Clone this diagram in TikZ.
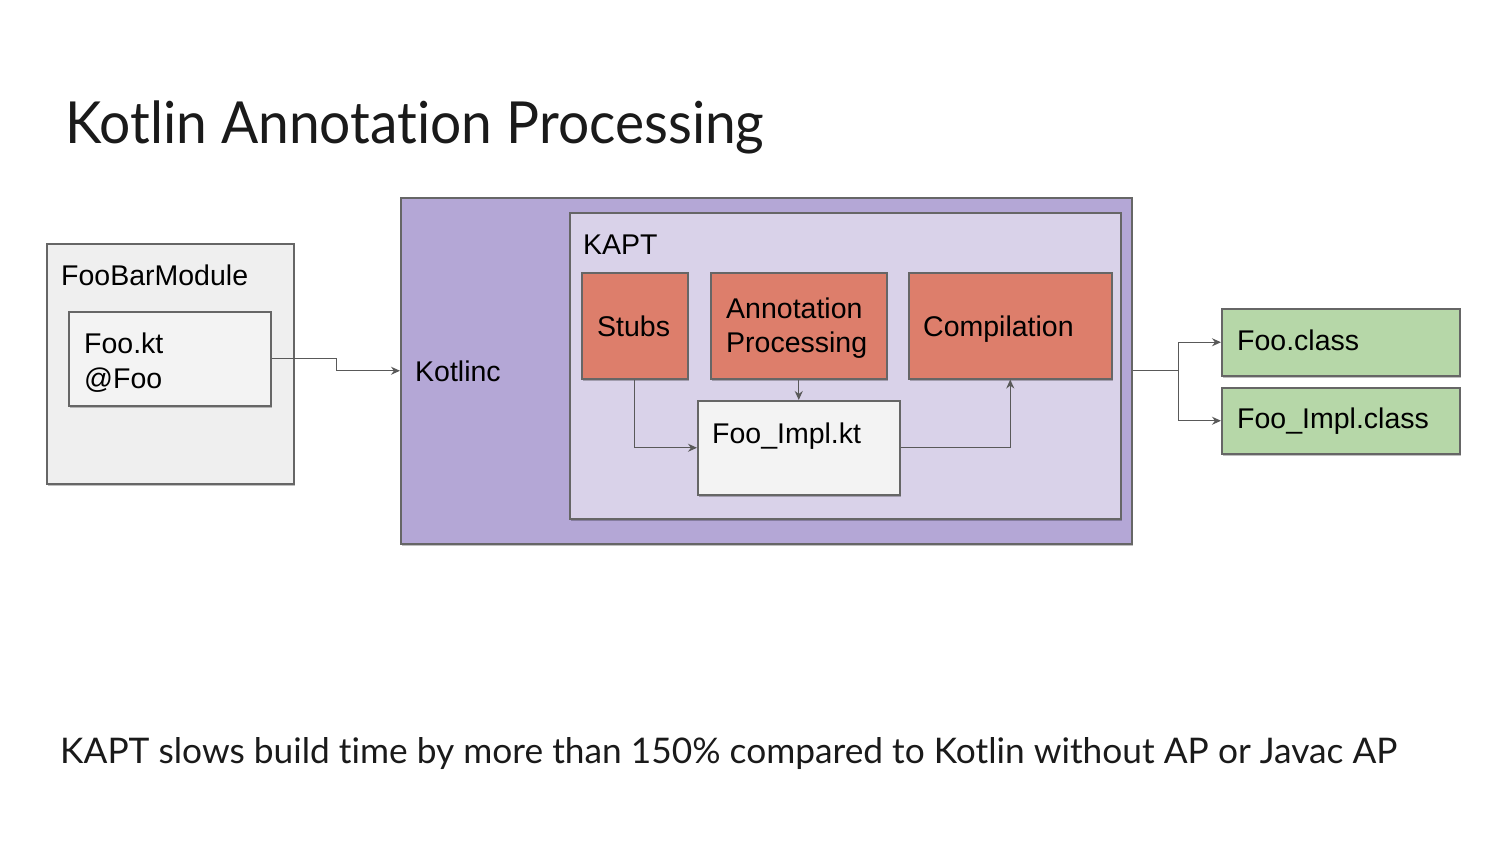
\documentclass[tikz,border=0pt]{standalone}
\usepackage{fontspec}
\setmainfont{Liberation Sans}
\newfontfamily\titlefont[Ligatures=NoCommon]{Lato}
\newfontfamily\titlefontnarrow[Ligatures=NoCommon,FakeStretch=0.95]{Lato}
\usetikzlibrary{shadows,arrows.meta}
\definecolor{edgegray}{HTML}{666666}
\definecolor{conngray}{HTML}{595959}
\definecolor{modgray}{HTML}{EFEFEF}
\definecolor{filegray}{HTML}{F3F3F3}
\definecolor{kotlincpurple}{HTML}{B4A7D6}
\definecolor{kaptpurple}{HTML}{D9D2E9}
\definecolor{stepred}{HTML}{DD7E6B}
\definecolor{outgreen}{HTML}{B6D7A8}
\definecolor{titleblack}{HTML}{1A1A1A}
\tikzset{
  box/.style={draw=edgegray, line width=1.5pt, rectangle, inner sep=0pt, anchor=north west,
    drop shadow={shadow xshift=1pt, shadow yshift=-2pt, opacity=0.25, fill=black}},
  lbl/.style={anchor=base west, inner sep=0pt, font=\fontsize{28.5}{34}\selectfont, text=black},
  conn/.style={draw=conngray, line width=1.4pt, -{Stealth[length=9pt,width=8pt]}},
  connplain/.style={draw=conngray, line width=1.4pt},
}
\begin{document}
\begin{tikzpicture}[x=1pt,y=-1pt]
\useasboundingbox (0,0) rectangle (1500,844);

% title
\node[anchor=base west, inner sep=0pt, text=titleblack, font=\titlefontnarrow\fontsize{58}{68}\selectfont] (title) at (65,143) {Kotlin Annotation Processing};

% boxes
\node[box, fill=modgray, minimum width=247pt, minimum height=240pt] (module) at (46,243) {};
\node[box, fill=filegray, minimum width=202pt, minimum height=94pt] (fookt) at (68,311) {};
\node[box, fill=kotlincpurple, minimum width=731pt, minimum height=346pt] (kotlinc) at (400,197) {};
\node[box, fill=kaptpurple, minimum width=551pt, minimum height=306pt] (kapt) at (569,212) {};
\node[box, fill=stepred, minimum width=106pt, minimum height=106pt] (stubs) at (581,272) {};
\node[box, fill=stepred, minimum width=176pt, minimum height=106pt] (ap) at (710,272) {};
\node[box, fill=stepred, minimum width=203pt, minimum height=106pt] (comp) at (908,272) {};
\node[box, fill=filegray, minimum width=202pt, minimum height=94pt] (fooimpl) at (697,400) {};
\node[box, fill=outgreen, minimum width=238pt, minimum height=67pt] (fooclass) at (1221,308) {};
\node[box, fill=outgreen, minimum width=238pt, minimum height=66pt] (fooimplclass) at (1221,387) {};

% labels
\node[lbl] (tmodule) at (61,285) {FooBarModule};
\node[lbl] (tfookt) at (84,353) {Foo.kt};
\node[lbl] (tfoo) at (84,388) {@Foo};
\node[lbl] (tkotlinc) at (415,381) {Kotlinc};
\node[lbl] (tkapt) at (583,254) {KAPT};
\node[lbl] (tstubs) at (597,336) {Stubs};
\node[lbl] (tap1) at (726,318) {Annotation};
\node[lbl] (tap2) at (726,352) {Processing};
\node[lbl] (tcomp) at (923,336) {Compilation};
\node[lbl] (tfooimpl) at (712,443) {Foo\_Impl.kt};
\node[lbl] (tfooclass) at (1237,350) {Foo.class};
\node[lbl] (tfooimplclass) at (1237,428) {Foo\_Impl.class};

% connectors
\draw[conn] (fookt.east) -- ++(65,0) |- (kotlinc.west);
\draw[conn] (stubs.south) |- (fooimpl.west);
\draw[conn] (ap.south) -- (ap.south |- fooimpl.north);
\draw[conn] (fooimpl.east) -| (comp.south);
\coordinate (split) at ([xshift=46pt]kotlinc.east);
\draw[connplain] (kotlinc.east) -- (split);
\draw[conn] (split) |- (fooclass.west);
\draw[conn] (split) |- (fooimplclass.west);

% bottom note
\node[anchor=base west, inner sep=0pt, text=titleblack, font=\titlefont\fontsize{35.3}{42}\selectfont] (note) at (60,763) {KAPT slows build time by more than 150\% compared to Kotlin without AP or Javac AP};
\end{tikzpicture}
\end{document}
